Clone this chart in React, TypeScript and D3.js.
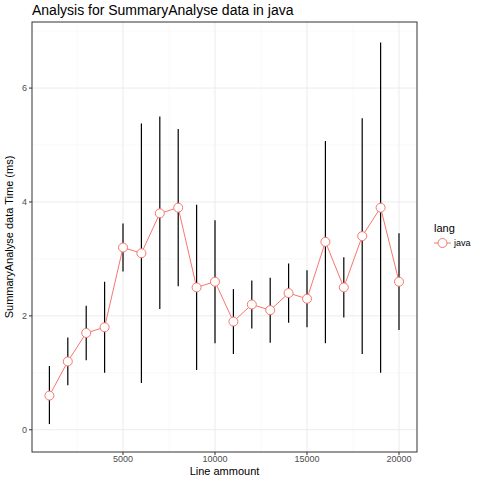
import React from "react";
import * as d3 from "d3";

const xs = [1000,2000,3000,4000,5000,6000,7000,8000,9000,10000,11000,12000,13000,14000,15000,16000,17000,18000,19000,20000];
const means = [0.6,1.2,1.7,1.8,3.2,3.1,3.8,3.9,2.5,2.6,1.9,2.2,2.1,2.4,2.3,3.3,2.5,3.4,3.9,2.6];
const lows = [0.1,0.78,1.22,1.0,2.78,0.82,2.12,2.52,1.05,1.52,1.33,1.78,1.53,1.88,1.8,1.52,1.97,1.33,1.0,1.75];
const highs = [1.12,1.62,2.18,2.6,3.62,5.38,5.5,5.28,3.95,3.68,2.47,2.62,2.67,2.92,2.8,5.07,3.03,5.47,6.8,3.45];
const xTicks = [5000,10000,15000,20000];
const yTicks = [0,2,4,6];

export default function App() {
  const L = 32, R = 417, T = 22, B = 452;
  const x = d3.scaleLinear().domain([54, 20978]).range([L, R]);
  const y = d3.scaleLinear().domain([-0.39, 7.16]).range([B, T]);
  const line = d3.line<number>().x((_, i) => x(xs[i])).y(d => y(d));
  const xMinor = [2500,7500,12500,17500];
  const yMinor = [1,3,5,7];
  const col = "#F8766D";
  return (
    <svg width={480} height={480} style={{position:"absolute",left:0,top:0,fontFamily:"Liberation Sans, Arial, sans-serif"}}>
      <rect width={480} height={480} fill="white"/>
      <text x={32} y={15} fontSize={14}>Analysis for SummaryAnalyse data in java</text>
      {xMinor.map(t => <line key={"xm"+t} x1={x(t)} x2={x(t)} y1={T} y2={B} stroke="#f2f2f2" strokeWidth={0.5}/>)}
      {yMinor.map(t => <line key={"ym"+t} y1={y(t)} y2={y(t)} x1={L} x2={R} stroke="#f2f2f2" strokeWidth={0.5}/>)}
      {xTicks.map(t => <line key={"x"+t} x1={x(t)} x2={x(t)} y1={T} y2={B} stroke="#ebebeb"/>)}
      {yTicks.map(t => <line key={"y"+t} y1={y(t)} y2={y(t)} x1={L} x2={R} stroke="#ebebeb"/>)}
      {xs.map((v, i) => <line key={"e"+i} x1={x(v)} x2={x(v)} y1={y(lows[i])} y2={y(highs[i])} stroke="black" strokeWidth={1.2}/>)}
      <path d={line(means) || ""} fill="none" stroke={col} strokeWidth={1}/>
      {xs.map((v, i) => <circle key={"p"+i} cx={x(v)} cy={y(means[i])} r={4.5} fill="white" stroke={col} strokeWidth={1}/>)}
      <rect x={L} y={T} width={R-L} height={B-T} fill="none" stroke="#333333" strokeWidth={1}/>
      {xTicks.map(t => <g key={"xt"+t}>
        <line x1={x(t)} x2={x(t)} y1={B} y2={B+3} stroke="#333"/>
        <text x={x(t)} y={B+10} fontSize={9} textAnchor="middle" fill="#4d4d4d">{t}</text>
      </g>)}
      {yTicks.map(t => <g key={"yt"+t}>
        <line x1={L-3} x2={L} y1={y(t)} y2={y(t)} stroke="#333"/>
        <text x={L-5} y={y(t)+3} fontSize={9} textAnchor="end" fill="#4d4d4d">{t}</text>
      </g>)}
      <text x={(L+R)/2} y={475} fontSize={11} textAnchor="middle">Line ammount</text>
      <text transform={`translate(13,${(T+B)/2}) rotate(-90)`} fontSize={11} textAnchor="middle">SummaryAnalyse data Time (ms)</text>
      <text x={434} y={232} fontSize={11}>lang</text>
      <line x1={434} x2={451} y1={243} y2={243} stroke={col}/>
      <circle cx={442.5} cy={243} r={4.5} fill="white" stroke={col}/>
      <text x={454} y={246} fontSize={9}>java</text>
    </svg>
  );
}
